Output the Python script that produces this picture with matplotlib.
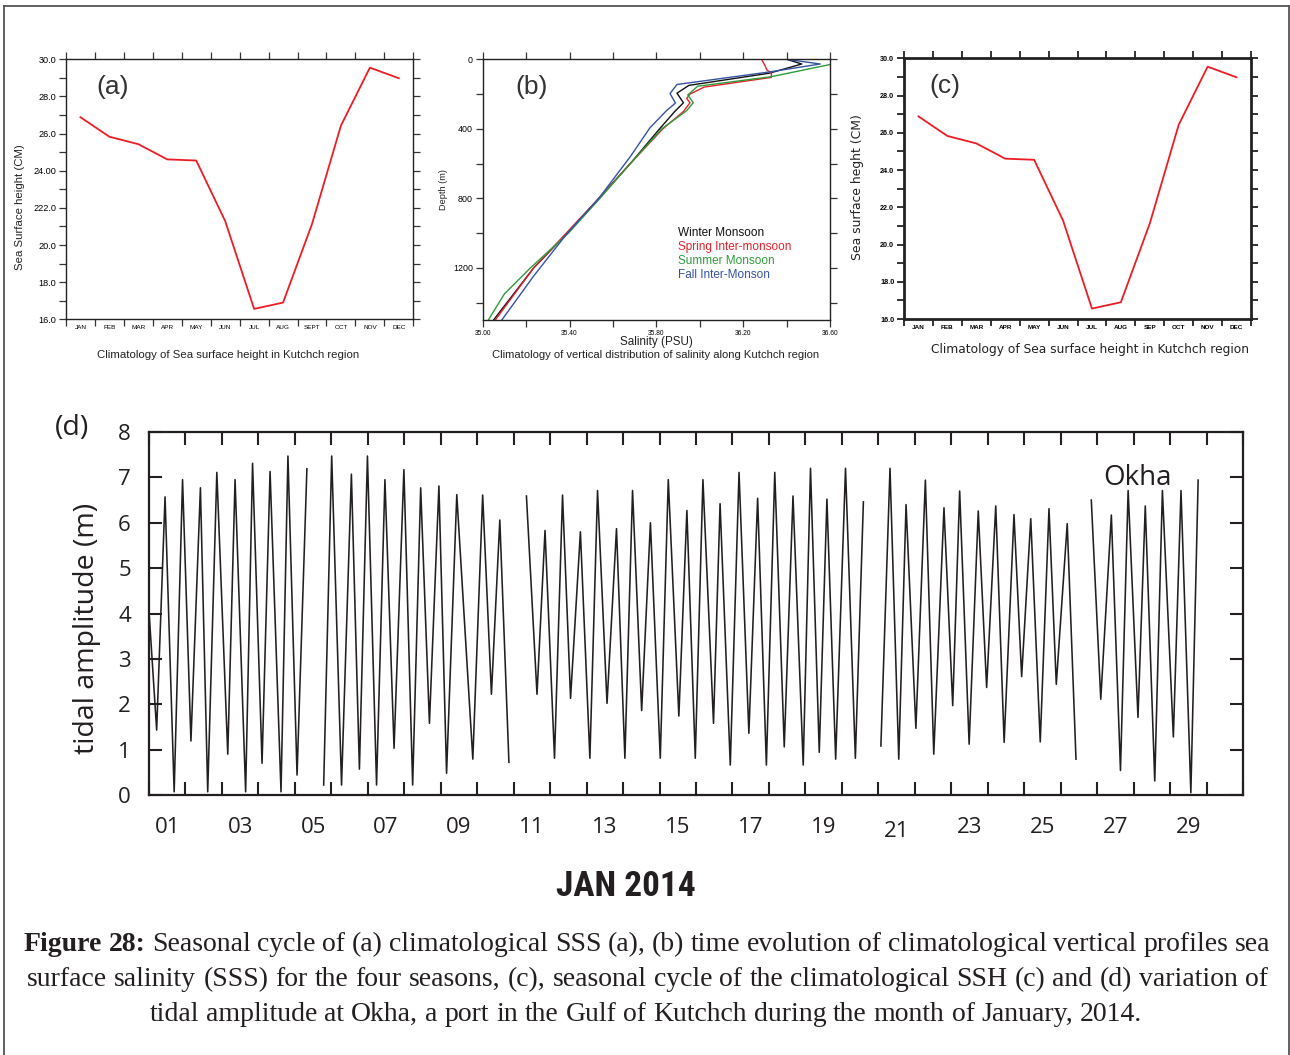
import numpy as np
import matplotlib
matplotlib.use("Agg")
import matplotlib.pyplot as plt
from matplotlib.lines import Line2D
from matplotlib.ticker import MultipleLocator, FixedLocator, NullFormatter
from matplotlib.transforms import ScaledTranslation

W, H = 1290, 1055
SANS = ["Liberation Sans", "DejaVu Sans"]
BODY = ["Open Sans", "DejaVu Sans"]
SERIF = ["Liberation Serif", "DejaVu Serif"]
INK = "#231f20"

# ---- sea surface height climatology (a) and (c)
months_a = ["JAN", "FEB", "MAR", "APR", "MAY", "JUN", "JUL", "AUG", "SEPT", "OCT", "NOV", "DEC"]
months_c = ["JAN", "FEB", "MAR", "APR", "MAY", "JUN", "JUL", "AUG", "SEP", "OCT", "NOV", "DEC"]
ssh_cm = [26.88, 25.83, 25.43, 24.61, 24.55, 21.29, 16.56, 16.9, 21.13, 26.43, 29.55, 28.98]
ssh_ticks = [16, 18, 20, 22, 24, 26, 28, 30]
ssh_labels_a = ["16.0", "18.0", "20.0", "222.0", "24.00", "26.0", "28.0", "30.0"]
ssh_labels_c = ["16.0", "18.0", "20.0", "22.0", "24.0", "26.0", "28.0", "30.0"]

# ---- salinity profiles (b)
depth_winter = [0, 27, 80, 150, 195, 250, 300, 400, 600, 800, 1000, 1200, 1500]
sal_winter = [36.40, 36.47, 36.32, 35.95, 35.895, 35.925, 35.885, 35.815, 35.68, 35.535, 35.39, 35.235, 35.05]
depth_spring = [0, 35, 63, 77, 104, 160, 200, 225, 250, 300, 400, 600, 800, 1000, 1200, 1500]
sal_spring = [36.285, 36.30, 36.31, 36.33, 36.33, 36.02, 35.955, 35.94, 35.955, 35.925, 35.83, 35.68,
              35.535, 35.385, 35.235, 35.058]
depth_summer = [30, 100, 155, 205, 250, 295, 400, 600, 800, 1000, 1200, 1350, 1500]
sal_summer = [36.60, 36.33, 35.99, 35.945, 35.97, 35.94, 35.825, 35.68, 35.54, 35.395, 35.22, 35.10, 35.026]
depth_fall = [0, 27, 73, 145, 197, 252, 295, 395, 560, 800, 1000, 1250, 1500]
sal_fall = [36.40, 36.555, 36.32, 35.895, 35.863, 35.888, 35.847, 35.77, 35.68, 35.535, 35.39, 35.233, 35.088]
season_names = ["Winter Monsoon", "Spring Inter-monsoon", "Summer Monsoon", "Fall Inter-Monson"]
season_colors = ["#111111", "#e8202a", "#2e9b3c", "#3552a3"]

# ---- Okha tide gauge, January 2014 (days since 1 Jan 00:00, metres); nan = gap
okha_days = [0.01, 0.21, 0.44, 0.69, 0.92, 1.15, 1.41, 1.61, 1.86, 2.16, 2.36, 2.65, 2.84, 3.10, 3.32,
             3.62, 3.81, 4.06, 4.33, np.nan,
             4.79, 5.01, 5.28, 5.55, 5.77, 5.99, 6.24, 6.47, 6.72, 6.99, 7.23, 7.45, 7.69, 7.95, 8.16,
             8.44, 8.88, 9.15, 9.39, 9.62, 9.87, np.nan,
             10.35, 10.64, 10.86, 11.12, 11.34, 11.56, 11.83, 12.09, 12.30, 12.56, 12.82, 13.05, 13.26,
             13.51, 13.75, 14.02, 14.24, 14.53, 14.75, 14.98, 15.19, 15.48, 15.66, 15.94, 16.18, 16.45,
             16.69, 16.93, 17.16, 17.42, 17.66, 17.94, 18.14, 18.38, 18.59, 18.83, 19.10, 19.37, 19.59,
             np.nan,
             20.07, 20.32, 20.56, 20.76, 21.03, 21.29, 21.52, 21.80, 22.04, 22.23, 22.49, 22.74, 22.97,
             23.22, 23.45, 23.72, 23.93, 24.18, 24.44, 24.68, 24.88, 25.18, 25.42, np.nan,
             25.84, 26.10, 26.39, 26.64, 26.85, 27.12, 27.32, 27.58, 27.79, 28.09, 28.30, 28.57, 28.77]
okha_height = [3.93, 1.43, 6.57, 0.07, 6.95, 1.19, 6.77, 0.07, 7.11, 0.90, 6.95, 0.07, 7.31, 0.70, 7.13,
               0.07, 7.47, 0.44, 7.19, np.nan,
               0.22, 7.47, 0.22, 7.07, 0.57, 7.47, 0.22, 6.95, 1.03, 7.17, 0.22, 6.77, 1.58, 6.81, 0.48,
               6.62, 0.79, 6.61, 2.22, 6.06, 0.72, np.nan,
               6.59, 2.22, 5.83, 0.81, 6.61, 2.13, 5.80, 0.81, 6.71, 2.02, 5.87, 0.81, 6.71,
               1.86, 6.00, 0.81, 6.95, 1.74, 6.27, 0.81, 6.95, 1.58, 6.42, 0.66, 7.11, 1.36,
               6.54, 0.66, 7.11, 1.06, 6.59, 0.66, 7.20, 0.94, 6.52, 0.79, 7.20, 0.81, 6.46,
               np.nan,
               1.08, 7.20, 0.79, 6.40, 1.47, 6.94, 0.90, 6.33, 1.97, 6.70, 1.12, 6.26, 2.37,
               6.37, 1.16, 6.18, 2.61, 6.09, 1.17, 6.31, 2.44, 5.98, 0.79, np.nan,
               6.50, 2.11, 6.17, 0.54, 6.71, 1.71, 6.37, 0.31, 6.71, 1.28, 6.71, 0.05, 6.94]
day_labels = ["01", "03", "05", "07", "09", "11", "13", "15", "17", "19", "21", "23", "25", "27", "29"]


def box(left, top, right, bottom):
    return [left / W, 1 - bottom / H, (right - left) / W, (bottom - top) / H]


fig = plt.figure(figsize=(W / 100, H / 100), dpi=100)

# outer frame (open at the bottom)
for xs, ys in [([4, 4], [6, H + 5]), ([4, 1289], [6, 6]), ([1289, 1289], [6, H + 5])]:
    fig.add_artist(Line2D([x / W for x in xs], [1 - y / H for y in ys], color="#555555", lw=1.3))


def ssh_panel(rect, tick_labels, months, bold, spine_w):
    ax = fig.add_axes(rect)
    ax.plot(np.arange(12) + 0.5, ssh_cm, color="#ec1c24", lw=1.3)
    ax.set_xlim(0, 12)
    ax.set_ylim(16, 30)
    ax.xaxis.set_major_locator(MultipleLocator(1))
    ax.xaxis.set_major_formatter(NullFormatter())
    ax.xaxis.set_minor_locator(FixedLocator(np.arange(12) + 0.5))
    ax.set_xticklabels(months, minor=True)
    ax.yaxis.set_major_locator(FixedLocator(ssh_ticks))
    ax.set_yticklabels(tick_labels)
    ax.yaxis.set_minor_locator(MultipleLocator(1))
    wt = "bold" if bold else "normal"
    ax.tick_params(axis="both", which="both", direction="out", top=True, right=True,
                   color="#333333", width=1.4 if bold else 0.9, length=5)
    ax.tick_params(axis="x", which="minor", length=0, pad=4, labelsize=4.6)
    ax.tick_params(axis="y", which="major", labelsize=5.2 if bold else 6.6, pad=2)
    for lab in ax.get_xticklabels(minor=True) + ax.get_yticklabels():
        lab.set_fontweight(wt)
        lab.set_family(SANS)
    for s in ax.spines.values():
        s.set_linewidth(spine_w)
        s.set_color("#222222")
    return ax


# (a)
ax_a = ssh_panel(box(66, 59.3, 413.3, 319.3), ssh_labels_a, months_a, False, 1.0)
ax_a.text(0.135, 0.895, "(a)", transform=ax_a.transAxes, fontsize=19, family=SANS,
          color="#333333", ha="center", va="center")
fig.text(20 / W, 1 - 207 / H, "Sea Surface height (CM)", rotation=90, fontsize=8.2, family=SANS,
         ha="center", va="center", color="#222222")
fig.text(228 / W, 1 - 355 / H, "Climatology of Sea surface height in Kutchch region", fontsize=8.2,
         family=SANS, ha="center", va="center", color="#222222")

# (b)
ax_b = fig.add_axes(box(482.7, 59.3, 830, 320))
for d, s, c in zip([depth_winter, depth_spring, depth_summer, depth_fall],
                   [sal_winter, sal_spring, sal_summer, sal_fall], season_colors):
    ax_b.plot(s, d, color=c, lw=1.0)
ax_b.set_xlim(35.0, 36.6)
ax_b.set_ylim(1500, 0)
ax_b.xaxis.set_major_locator(FixedLocator([35.0, 35.4, 35.8, 36.2, 36.6]))
ax_b.set_xticklabels(["35.00", "35.40", "35.80", "36.20", "36.60"])
ax_b.xaxis.set_minor_locator(FixedLocator([35.2, 35.6, 36.0, 36.4]))
ax_b.yaxis.set_major_locator(FixedLocator([0, 400, 800, 1200]))
ax_b.set_yticklabels(["0", "400", "800", "1200"])
ax_b.yaxis.set_minor_locator(FixedLocator([200, 600, 1000, 1400]))
ax_b.tick_params(axis="both", which="both", direction="out", top=True, right=True,
                 color="#333333", width=0.9, length=5)
ax_b.tick_params(axis="x", labelsize=4.8, pad=2)
ax_b.tick_params(axis="y", labelsize=6.4, pad=2)
for lab in ax_b.get_xticklabels() + ax_b.get_yticklabels():
    lab.set_family(SANS)
for s in ax_b.spines.values():
    s.set_linewidth(1.0)
    s.set_color("#222222")
for i, (name, c) in enumerate(zip(season_names, season_colors)):
    ax_b.text(0.562, 0.334 - i * 0.0535, name, transform=ax_b.transAxes, color=c, fontsize=8.5,
              family=SANS, ha="left", va="center")
ax_b.text(0.14, 0.895, "(b)", transform=ax_b.transAxes, fontsize=19, family=SANS,
          color="#333333", ha="center", va="center")
fig.text(443 / W, 1 - 190 / H, "Depth (m)", rotation=90, fontsize=6.6, family=SANS,
         ha="center", va="center", color="#222222")
fig.text(656 / W, 1 - 342 / H, "Salinity (PSU)", fontsize=8.4, family=SANS,
         ha="center", va="center", color="#222222")
fig.text(656 / W, 1 - 355 / H, "Climatology of vertical distribution of salinity along Kutchch region",
         fontsize=8.1, family=SANS, ha="center", va="center", color="#222222")

# (c)
ax_c = ssh_panel(box(904, 58.3, 1251, 319), ssh_labels_c, months_c, True, 2.0)
ax_c.text(0.118, 0.895, "(c)", transform=ax_c.transAxes, fontsize=19, family=SANS,
          color="#333333", ha="center", va="center")
fig.text(858 / W, 1 - 187 / H, "Sea surface heght (CM)", rotation=90, fontsize=8.9, family=["DejaVu Sans"],
         ha="center", va="center", color="#222222")
fig.text(1090 / W, 1 - 350 / H, "Climatology of Sea surface height in Kutchch region", fontsize=8.8,
         family=["DejaVu Sans"], ha="center", va="center", color="#222222")

# (d) tidal amplitude at Okha
ax_d = fig.add_axes(box(149, 432, 1243, 795))
ax_d.plot(okha_days, okha_height, color=INK, lw=1.15)
ax_d.set_xlim(0, 30)
ax_d.set_ylim(0, 8)
ax_d.xaxis.set_major_locator(MultipleLocator(1))
ax_d.xaxis.set_major_formatter(NullFormatter())
ax_d.xaxis.set_minor_locator(FixedLocator(np.arange(0, 30, 2) + 0.5))
ax_d.set_xticklabels(day_labels, minor=True)
ax_d.yaxis.set_major_locator(MultipleLocator(1))
ax_d.tick_params(axis="both", which="major", direction="in", top=True, right=True,
                 length=9.5, width=1.5, color=INK)
ax_d.tick_params(axis="x", which="minor", length=0, pad=16, labelsize=16)
ax_d.tick_params(axis="y", which="major", pad=13, labelsize=16)
for lab in ax_d.get_xticklabels(minor=True) + ax_d.get_yticklabels():
    lab.set_family(BODY)
    lab.set_color(INK)
# the "21" label sits a little lower than its neighbours
lab21 = ax_d.xaxis.get_minor_ticks()[10].label1
lab21.set_transform(lab21.get_transform() + ScaledTranslation(0, -0.04, fig.dpi_scale_trans))
for s in ax_d.spines.values():
    s.set_linewidth(1.6)
    s.set_color(INK)
ax_d.text(0.904, 0.873, "Okha", transform=ax_d.transAxes, fontsize=20, family=BODY, color=INK,
          ha="center", va="center")
fig.text(87 / W, 1 - 628 / H, "tidal amplitude (m)", rotation=90, fontsize=20.5, family=BODY,
         color=INK, ha="center", va="center")
fig.text(72 / W, 1 - 428 / H, "(d)", fontsize=20.5, family=BODY, color=INK, ha="center", va="center")
fig.text(626 / W, 1 - 886 / H, "JAN 2014", fontsize=25.5,
         family=["Roboto Condensed", "Liberation Sans"], weight="bold", color=INK,
         ha="center", va="center")

# caption, first two lines justified between fixed margins
CAP = 20
renderer = fig.canvas.get_renderer()


def caption_line(words, y, left=None, right=None, center=None):
    arts = []
    for word, bold in words:
        t = fig.text(0, 0, word, fontsize=CAP, family=SERIF, weight="bold" if bold else "normal",
                     color=INK, ha="left", va="baseline", transform=None)
        arts.append((t, t.get_window_extent(renderer).width))
    total = sum(w for _, w in arts)
    if center is None:
        gap = (right - left - total) / (len(arts) - 1)
        x = left
    else:
        gap = CAP * 100 / 72 * 0.25
        x = center - (total + gap * (len(arts) - 1)) / 2
    for t, w in arts:
        t.set_position((x, H - y))
        x += w + gap


line1 = [("Figure", True), ("28:", True)] + [(w, False) for w in
         "Seasonal cycle of (a) climatological SSS (a), (b) time evolution of climatological vertical profiles sea".split()]
line2 = [(w, False) for w in
         "surface salinity (SSS) for the four seasons,  (c), seasonal cycle of the climatological SSH (c) and (d) variation of".split()]
line3 = [(w, False) for w in
         "tidal amplitude at Okha, a port in the Gulf of Kutchch during the month of January, 2014.".split()]
caption_line(line1, 951, left=24, right=1270)
caption_line(line2, 986, left=27, right=1268)
caption_line(line3, 1021, center=646)

fig.savefig("out.png", dpi=100)
